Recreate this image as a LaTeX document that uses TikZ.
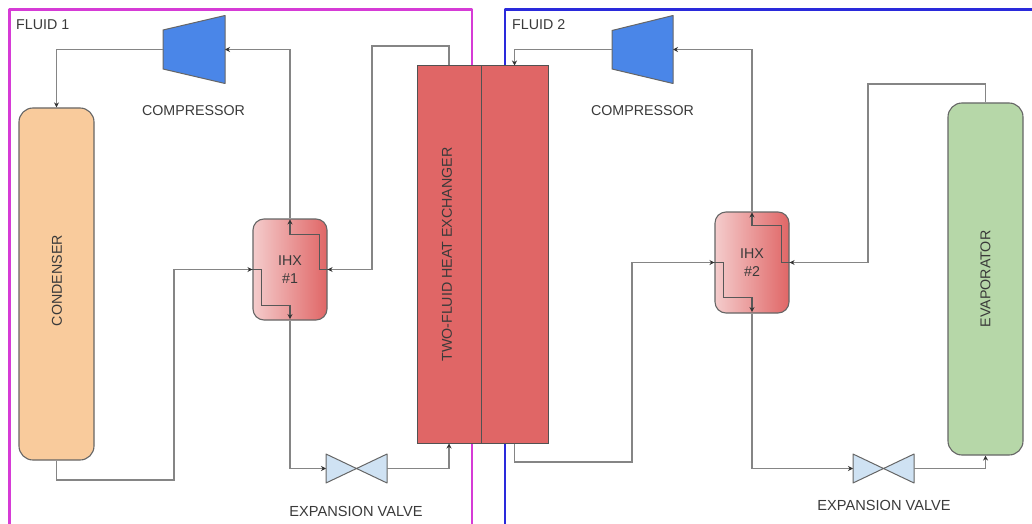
\documentclass[tikz,border=0pt]{standalone}
\usepackage{fontspec}
\setmainfont{Liberation Sans}
\usetikzlibrary{arrows.meta}
\definecolor{txt}{HTML}{3A3A3A}
\definecolor{ln}{HTML}{858585}
\definecolor{edge}{HTML}{666666}
\definecolor{heat}{HTML}{E06666}
\definecolor{heatlight}{HTML}{F4CCCC}
\definecolor{comp}{HTML}{4A86E8}
\definecolor{cond}{HTML}{F9CB9C}
\definecolor{evap}{HTML}{B6D7A8}
\definecolor{valv}{HTML}{CFE2F3}
\definecolor{magframe}{HTML}{D63BD6}
\definecolor{bluframe}{HTML}{2A2ADB}
\tikzset{
  base/.style={font=\fontsize{14.25}{17.5}\selectfont, text=txt, align=center, inner sep=0pt},
  lbl/.style={base},
  valvelbl/.style={base,font=\fontsize{14.6}{17.5}\selectfont},
  frame/.style={line width=2.4pt},
  vessel/.style={base, draw=edge, line width=1.1pt, rounded corners=14pt, minimum width=75pt, minimum height=352pt},
  ihx/.style={base, draw=edge, line width=1.1pt, rounded corners=11pt, minimum width=74pt, minimum height=101pt,
    left color=heatlight, right color=heat},
  hxpart/.style={base, draw=edge!80!black, line width=1pt, fill=heat, minimum height=377pt},
  anchorbox/.style={inner sep=0pt, outer sep=0pt},
  body/.style={draw=edge, line width=1pt, line join=round},
  pipe/.style={draw=ln, line width=1.15pt},
  tipstyle/.style={-{Stealth[length=5pt,width=5pt,black!80]}},
  flow/.style={pipe, tipstyle},
  inner/.style={draw=edge!85!black, line width=1.1pt},
  innerout/.style={inner, tipstyle, shorten >=1.5pt},
  innerback/.style={inner, {Stealth[length=5pt,width=5pt,black!80]}-, shorten <=1pt},
}
\begin{document}
\begin{tikzpicture}[x=1pt,y=-1pt]
\useasboundingbox (0,0) rectangle (1032,524);
\clip (0,0) rectangle (1032,524);
\fill[white] (0,0) rectangle (1032,524);
% fluid frames
\draw[frame,draw=magframe,line join=round] (9.5,530) -- (9.5,9.5) -- (472,9.5) -- (472,530);
\draw[frame,draw=bluframe,line join=round] (505,530) -- (505,9.5) -- (1040,9.5);
% vessels
\node[vessel,fill=cond,label={[base,rotate=90,xshift=3.5pt,yshift=-0.5pt]center:CONDENSER}] (cond) at (56.5,284) {};
\node[vessel,fill=evap,label={[base,rotate=90]center:EVAPORATOR}] (evap) at (985.5,279) {};
\node[hxpart,minimum width=64pt,label={[base,rotate=90,xshift=0pt,yshift=2pt]center:TWO-FLUID HEAT EXCHANGER}] (hxa) at (449,254.5) {};
\node[hxpart,minimum width=67pt] (hxb) at (514.5,254.5) {};
% compressors
\node[anchorbox,minimum width=62pt,minimum height=68pt] (c1) at (194,49.5) {};
\node[anchorbox,minimum width=61pt,minimum height=68pt] (c2) at (642.5,49.5) {};
\path[body,fill=comp] (c1.west) ++(0,-19.5) -- (c1.north east) -- (c1.south east) -- ++(-62,-14.5) -- cycle;
\path[body,fill=comp] (c2.west) ++(0,-19) -- (c2.north east) -- (c2.south east) -- ++(-61,-14.5) -- cycle;
% valves
\node[anchorbox,minimum width=61pt,minimum height=29pt] (v1) at (356.5,468.5) {};
\node[anchorbox,minimum width=61pt,minimum height=29pt] (v2) at (883.5,468.5) {};
\path[body,fill=valv] (v1.north west) -- (v1.south east) -- (v1.north east) -- (v1.south west) -- cycle;
\path[body,fill=valv] (v2.north west) -- (v2.south east) -- (v2.north east) -- (v2.south west) -- cycle;
% internal heat exchangers
\node[ihx] (i1) at (290,269.5) {IHX\\\#1};
\node[ihx] (i2) at (752,262.5) {IHX\\\#2};
% IHX inner paths
\draw[innerout] (i1.west) -- ++(9,0) -- ++(0,36) -| (i1.south);
\draw[innerback] (i1.north) -- ++(0,16) -- ++(29.5,0) |- (i1.east);
\draw[innerout] (i2.west) -- ++(9,0) -- ++(0,35) -| (i2.south);
\draw[innerback] (i2.north) -- ++(0,14) -- ++(29.5,0) |- (i2.east);
% fluid 1 circuit
\draw[flow] (c1.west) -| (cond.north);
\draw[flow] (cond.south) |- (174,480) |- (i1.west);
\draw[flow] (i1.north) |- (c1.east);
\draw[flow] (hxa.north) |- (372,46) |- (i1.east);
\draw[flow] (i1.south) |- (v1.west);
\draw[flow] (v1.east) -| (hxa.south);
% fluid 2 circuit
\draw[flow] (c2.west) -| (hxb.north);
\draw[flow] (hxb.south) |- (632,462) |- (i2.west);
\draw[flow] (i2.north) |- (c2.east);
\draw[flow] (evap.north) |- (868,84) |- (i2.east);
\draw[flow] (i2.south) |- (v2.west);
\draw[flow] (v2.east) -| (evap.south);
% labels
\node[lbl,anchor=west] (f1) at (16,25) {FLUID 1};
\node[lbl,anchor=west] (f2) at (512,25) {FLUID 2};
\node[lbl] (t1) at (193.5,111) {COMPRESSOR};
\node[lbl] (t2) at (642.5,111) {COMPRESSOR};
\node[valvelbl] (t3) at (356,511) {EXPANSION VALVE};
\node[valvelbl] (t4) at (884,505) {EXPANSION VALVE};
\end{tikzpicture}
\end{document}
